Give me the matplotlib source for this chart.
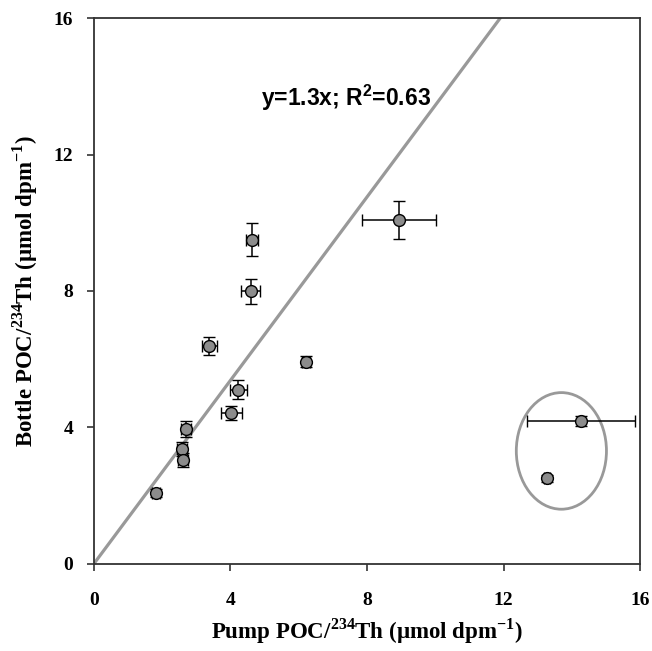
import numpy as np
import matplotlib
matplotlib.use('Agg')
import matplotlib.pyplot as plt
from matplotlib.patches import Ellipse

plt.rcParams['font.family'] = 'Liberation Serif'
plt.rcParams['mathtext.fontset'] = 'custom'
plt.rcParams['mathtext.rm'] = 'Liberation Serif:bold'
plt.rcParams['mathtext.bf'] = 'Liberation Serif:bold'
plt.rcParams['mathtext.sf'] = 'Liberation Sans:bold'

# pump vs bottle POC/234Th ratios
pump = [4.64, 4.59, 3.38, 4.23, 4.02, 2.69, 2.57, 2.62, 1.82, 8.94, 6.22, 14.27, 13.27]
bottle = [9.50, 7.99, 6.39, 5.10, 4.42, 3.95, 3.36, 3.05, 2.07, 10.09, 5.93, 4.19, 2.51]
pump_err = [0.18, 0.27, 0.22, 0.24, 0.31, 0.15, 0.15, 0.15, 0.12, 1.08, 0.12, 1.59, 0.1]
bottle_err = [0.48, 0.37, 0.26, 0.28, 0.2, 0.23, 0.2, 0.2, 0.12, 0.56, 0.15, 0.15, 0.1]

slope = 1.345
ticks = [0, 4, 8, 12, 16]

fig = plt.figure(figsize=(6.52, 6.51), dpi=100)
ax = fig.add_axes([0.144, 0.134, 0.838, 0.838])

xs = np.array([0, 16])
ax.plot(xs, slope * xs, color='#999999', lw=2.3, zorder=1)

ax.errorbar(pump, bottle, xerr=pump_err, yerr=bottle_err, fmt='o', ms=8.5,
            mfc='#8c8c8c', mec='black', mew=1.0, ecolor='black', elinewidth=1.1,
            capsize=4.5, capthick=1.1, zorder=3)

ax.add_patch(Ellipse((13.69, 3.31), 2.64, 3.42, fill=False, ec='#999999', lw=2))

ax.text(7.39, 13.67, r'y=1.3x; R$^{\mathsf{2}}$=0.63', family='Liberation Sans',
        weight='bold', fontsize=16.5, ha='center', va='center')

ax.set_xlim(0, 16)
ax.set_ylim(0, 16)
ax.set_xticks(ticks)
ax.set_yticks(ticks)
ax.tick_params(direction='out', length=5, width=1.2, color='#333333',
               labelsize=14, pad=10)
ax.tick_params(axis='x', pad=15)
for lab in ax.get_xticklabels() + ax.get_yticklabels():
    lab.set_fontweight('bold')
for s in ax.spines.values():
    s.set_color('#333333')
    s.set_linewidth(1.3)

ax.set_xlabel(r'Pump POC/$^{234}$Th (µmol dpm$^{-1}$)', fontsize=16.5,
              weight='bold', labelpad=6)
ax.set_ylabel(r'Bottle POC/$^{234}$Th (µmol dpm$^{-1}$)', fontsize=16.5,
              weight='bold', labelpad=10)

fig.savefig('out.png', dpi=100)
